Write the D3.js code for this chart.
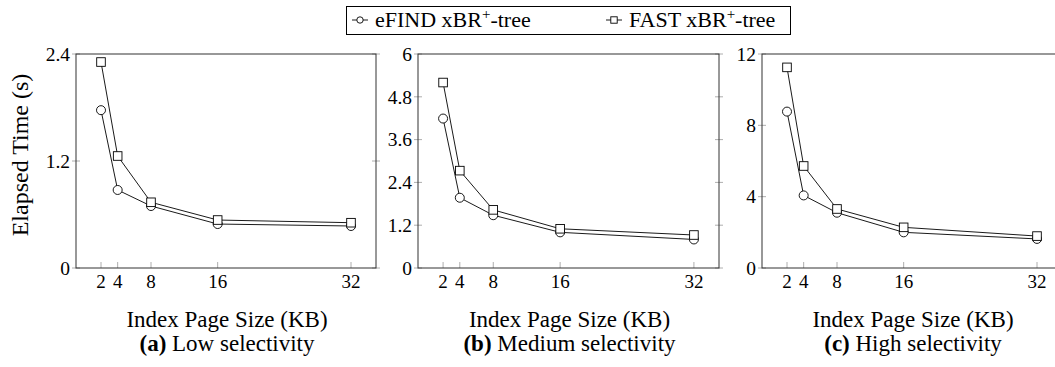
<!DOCTYPE html>
<html>
<head>
<meta charset="utf-8">
<script src="https://cdn.jsdelivr.net/npm/d3@7/dist/d3.min.js"></script>
<style>
  body { margin: 0; background: #fff; }
  svg { display: block; }
</style>
</head>
<body>
<script>
// page sizes on the x axis (KB)
var pageSizes = [2, 4, 8, 16, 32];
var xTicks = [2, 4, 8, 16, 32];

// elapsed time (s)
var lowEfind  = [1.77, 0.875, 0.695, 0.493, 0.471];
var lowFast   = [2.31, 1.256, 0.737, 0.538, 0.508];
var medEfind  = [4.19, 1.97, 1.48, 1.00, 0.80];
var medFast   = [5.20, 2.73, 1.63, 1.10, 0.925];
var highEfind = [8.77, 4.07, 3.10, 2.00, 1.63];
var highFast  = [11.25, 5.72, 3.31, 2.28, 1.79];

var lowTicks  = [0, 1.2, 2.4];
var medTicks  = [0, 1.2, 2.4, 3.6, 4.8, 6];
var highTicks = [0, 4, 8, 12];

var seriesNames = ["eFIND xBR", "FAST xBR"];
var captionTags = ["(a)", "(b)", "(c)"];
var captionTexts = ["Low selectivity", "Medium selectivity", "High selectivity"];

var panels = [
    {left: 76,  right: 376,  ymax: 2.4, ticks: lowTicks,  efind: lowEfind,  fast: lowFast},
    {left: 418, right: 719,  ymax: 6,   ticks: medTicks,  efind: medEfind,  fast: medFast},
    {left: 762, right: 1062, ymax: 12,  ticks: highTicks, efind: highEfind, fast: highFast}
];

var plotTop = 54, plotBottom = 268;
var font = "'Liberation Serif', 'Times New Roman', serif";

var svg = d3.select("body").append("svg")
    .attr("width", 1055)
    .attr("height", 367)
    .attr("font-family", font);

function drawMark(g, type, cx, cy, r) {
    if (type == 0) {
        g.append("circle")
            .attr("cx", cx).attr("cy", cy).attr("r", r)
            .attr("fill", "white").attr("stroke", "black").attr("stroke-width", 0.9);
    } else {
        g.append("rect")
            .attr("x", cx - r).attr("y", cy - r)
            .attr("width", 2 * r).attr("height", 2 * r)
            .attr("fill", "white").attr("stroke", "black").attr("stroke-width", 0.9);
    }
}

panels.forEach(function(p, i) {
    var x = d3.scaleLinear().domain([-1, 35]).range([p.left, p.right]);
    var y = d3.scaleLinear().domain([0, p.ymax]).range([plotBottom, plotTop]);
    var g = svg.append("g");

    // x ticks (inside, bottom only)
    xTicks.forEach(function(t) {
        g.append("line")
            .attr("x1", x(t)).attr("x2", x(t))
            .attr("y1", plotBottom).attr("y2", plotBottom - 6)
            .attr("stroke", "#999").attr("stroke-width", 0.8);
        g.append("text")
            .attr("x", x(t)).attr("y", plotBottom + 20)
            .attr("text-anchor", "middle")
            .attr("font-size", 19)
            .text(t);
    });

    // y ticks (centered, both sides)
    p.ticks.forEach(function(t) {
        [p.left, p.right].forEach(function(xx) {
            g.append("line")
                .attr("x1", xx - 4).attr("x2", xx + 4)
                .attr("y1", y(t)).attr("y2", y(t))
                .attr("stroke", "#999").attr("stroke-width", 0.8);
        });
        g.append("text")
            .attr("x", p.left - 6).attr("y", y(t))
            .attr("dy", "0.35em")
            .attr("text-anchor", "end")
            .attr("font-size", 19.5)
            .text(t);
    });

    // frame
    g.append("rect")
        .attr("x", p.left).attr("y", plotTop)
        .attr("width", p.right - p.left).attr("height", plotBottom - plotTop)
        .attr("fill", "none").attr("stroke", "#333").attr("stroke-width", 1);

    var line = d3.line()
        .x(function(d, j) { return x(pageSizes[j]); })
        .y(function(d) { return y(d); });

    [p.efind, p.fast].forEach(function(vals) {
        g.append("path")
            .attr("d", line(vals))
            .attr("fill", "none").attr("stroke", "black").attr("stroke-width", 0.9);
    });
    [p.efind, p.fast].forEach(function(vals, k) {
        vals.forEach(function(v, j) {
            drawMark(g, k, x(pageSizes[j]), y(v), k == 0 ? 4.5 : 4.3);
        });
    });

    var cx = (p.left + p.right) / 2 + 1;
    g.append("text")
        .attr("x", cx).attr("y", 327)
        .attr("text-anchor", "middle")
        .attr("font-size", 23)
        .text("Index Page Size (KB)");

    var cap = g.append("text")
        .attr("x", cx).attr("y", 351)
        .attr("text-anchor", "middle")
        .attr("font-size", 23);
    cap.append("tspan").attr("font-weight", "bold").text(captionTags[i]);
    cap.append("tspan").text(" " + captionTexts[i]);
});

// y axis label
svg.append("text")
    .attr("transform", "translate(28,155) rotate(-90)")
    .attr("text-anchor", "middle")
    .attr("font-size", 24)
    .text("Elapsed Time (s)");

// legend
var legend = svg.append("g");
legend.append("rect")
    .attr("x", 346.5).attr("y", 6.5)
    .attr("width", 444).attr("height", 28)
    .attr("fill", "white").attr("stroke", "black").attr("stroke-width", 1);

var legendX = [352, 606];
seriesNames.forEach(function(name, k) {
    var lx = legendX[k];
    legend.append("line")
        .attr("x1", lx).attr("x2", lx + 16)
        .attr("y1", 20).attr("y2", 20)
        .attr("stroke", "black").attr("stroke-width", 0.9);
    drawMark(legend, k, lx + 8, 20, 3.2);
    var t = legend.append("text")
        .attr("x", lx + 23).attr("y", 27)
        .attr("font-size", 22);
    t.append("tspan").text(name);
    t.append("tspan").attr("dy", -8).attr("font-size", 15).text("+");
    t.append("tspan").attr("dy", 8).text("-tree");
});
</script>
</body>
</html>
